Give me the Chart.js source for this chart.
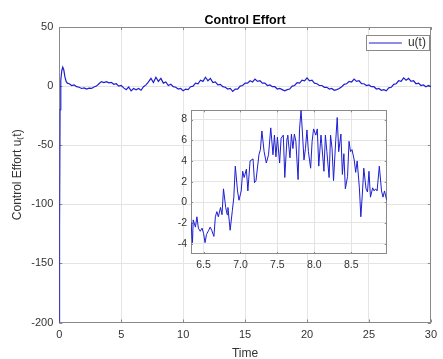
<!DOCTYPE html>
<html>
<head>
<meta charset="utf-8">
<script src="https://cdn.jsdelivr.net/npm/chart.js@4"></script>
<style>
  html, body { margin: 0; padding: 0; background: #fff; }
  #wrap { position: relative; width: 443px; height: 359px; }
  #mainChart { position: absolute; left: 0; top: 0; }
  #insetChart { position: absolute; left: 160px; top: 100px; }
</style>
</head>
<body>
<div id="wrap">
  <canvas id="mainChart" width="443" height="359"></canvas>
  <canvas id="insetChart" width="235" height="175"></canvas>
</div>
<script>
// --- DATA ---
const chartTitle = 'Control Effort';
const xLabel = 'Time';
const yLabel = 'Control Effort u\u208Dt)';
const seriesName = 'u(t)';

// main plot ticks
const mainXTicks = [0, 5, 10, 15, 20, 25, 30];
const mainYTicks = [-200, -150, -100, -50, 0, 50];

// start-up transient (t, u)
const startTime = [0, 0.02, 0.06, 0.12, 0.2, 0.28, 0.36, 0.45, 0.55, 0.65];
const startValues = [-200, -120, -20, 5, 13, 16, 14, 8, 4, 2.5];

// rest of the run, one reading every 0.2 s from t = 0.8
const runStart = 0.8;
const runStep = 0.2;
const runValues = [
  2.0, 0.5, 1.0, -0.5, -1.0, -2.0, -1.5, -2.5, -1.8, -2.0,
  -0.8, 0.0, 2.0, 3.8, 3.0, 3.8, 2.8, 3.2, 1.5, 2.0,
  0.0, 0.5, -1.5, -3.0, -0.8, -4.0, -2.0, -3.2, -2.0, -3.5,
  -0.5, 1.0, 3.5, 6.5, 3.0, 7.5, 4.0, 6.5, 2.5, 3.5,
  0.5, 1.5, -0.5, -1.0, -2.5, -2.0, -4.0, -2.5, -3.0, -0.5,
  0.0, 2.5, 2.0, 5.0, 4.0, 7.5, 4.5, 6.5, 3.0, 3.5,
  1.0, 1.5, -0.5, -1.0, -2.5, -2.0, -4.5, -2.5, -2.5, 0.0,
  0.5, 2.5, 2.5, 4.5, 3.5, 6.0, 4.0, 4.5, 2.5, 2.5,
  0.5, 1.0, -0.5, -0.5, -2.5, -2.0, -3.0, -4.0, -3.0, -2.5,
  0.0, 0.5, 3.0, 2.5, 5.0, 4.5, 7.0, 4.5, 5.0, 2.5,
  2.0, 0.5, 0.5, -1.0, -1.0, -2.5, -2.0, -3.5, -3.0, -2.0,
  -0.5, 1.5, 2.0, 4.0, 3.5, 6.0, 4.0, 4.5, 2.0, 2.0,
  0.5, 1.0, -0.5, -0.5, -2.5, -2.0, -3.5, -3.0, -4.0, -1.5,
  -1.0, 1.5, 2.0, 4.5, 4.0, 7.0, 5.0, 6.5, 4.0, 4.5,
  2.0, 2.5, 0.5, 1.0, -0.5, 0.5, -0.5
];

// zoomed window (inset)
const insetXTicks = [6.5, 7, 7.5, 8, 8.5];
const insetYTicks = [-4, -2, 0, 2, 4, 6, 8];
const insetTime = [
  6.33, 6.35, 6.36, 6.39, 6.41, 6.43, 6.455, 6.48, 6.5, 6.52,
  6.54, 6.57, 6.59, 6.61, 6.64, 6.66, 6.68, 6.7, 6.73, 6.75,
  6.77, 6.8, 6.82, 6.83, 6.86, 6.89, 6.91, 6.93, 6.96, 6.98,
  7.01, 7.03, 7.05, 7.08, 7.1, 7.13, 7.17, 7.19, 7.21, 7.25,
  7.27, 7.29, 7.32, 7.35, 7.38, 7.41, 7.44, 7.46, 7.48, 7.5,
  7.53, 7.55, 7.58, 7.6, 7.63, 7.64, 7.67, 7.69, 7.71, 7.73,
  7.75, 7.78, 7.8, 7.82, 7.84, 7.86, 7.88, 7.9, 7.92, 7.95,
  7.97, 7.99, 8.02, 8.04, 8.06, 8.09, 8.1, 8.13, 8.15, 8.17,
  8.2, 8.22, 8.24, 8.26, 8.29, 8.31, 8.33, 8.36, 8.38, 8.4,
  8.42, 8.45, 8.47, 8.49, 8.51, 8.54, 8.56, 8.58, 8.61, 8.63,
  8.65, 8.67, 8.7, 8.72, 8.74, 8.76, 8.79, 8.81, 8.83, 8.85,
  8.88, 8.91, 8.93, 8.95, 8.98
];
const insetValues = [
  -1.9, -3.9, -1.7, -2.4, -1.4, -2.5, -2.8, -2.5, -3.0, -3.9,
  -3.1, -2.7, -2.4, -2.7, -3.3, -1.4, -0.9, -1.4, -0.5, -1.2,
  1.3, -0.5, -1.2, -0.5, -2.7, -0.8, 0.5, 3.5, 1.1, 0.2,
  1.1, 3.0, 2.4, 3.2, 1.1, 4.0, 4.2, 1.9, 2.1, 4.6,
  5.1, 6.9, 4.9, 3.8, 4.6, 7.2, 4.6, 6.5, 4.4, 6.3,
  3.8, 6.2, 6.5, 2.4, 6.2, 6.5, 4.3, 6.6, 5.2, 6.6,
  5.9, 2.2, 7.1, 8.9, 6.6, 4.1, 5.2, 7.0, 4.9, 3.3,
  5.9, 7.1, 6.5, 7.1, 3.5, 6.5, 5.7, 3.0, 6.5, 4.9,
  2.4, 6.5, 5.2, 2.1, 6.0, 8.2, 4.9, 6.6, 2.7, 4.7,
  1.3, 2.5, 5.9, 4.9, 5.1, 4.1, 2.9, 4.0, 1.4, -1.4,
  0.8, 3.3, 1.3, 1.0, 3.0, 0.5, 1.4, 1.1, 1.3, 1.1,
  3.5, 1.1, 0.5, 1.1, 0.2
];
const insetXRange = [6.33, 8.98];
const insetYRange = [-5, 8.9];

// --- STYLE ---
const FONT = "'Liberation Sans', Arial, sans-serif";
const LINE_BLUE = 'rgb(30, 30, 210)';
const AXIS_GRAY = '#8a8a8a';
const GRID_GRAY = '#e4e4e4';
const TEXT_GRAY = '#333333';
const LEGEND_PAD = 10;

Chart.defaults.font.family = FONT;
Chart.defaults.color = TEXT_GRAY;

const mainPoints = startTime.map((t, i) => ({ x: t, y: startValues[i] }))
  .concat(runValues.map((v, i) => ({ x: +(runStart + i * runStep).toFixed(2), y: v })));
const insetPoints = insetTime.map((t, i) => ({ x: t, y: insetValues[i] }));

// MATLAB-like box with inward tick marks
const axesBox = {
  id: 'axesBox',
  beforeDraw(chart, args, opts) {
    if (!opts.fill) return;
    const a = chart.chartArea;
    const ctx = chart.ctx;
    ctx.save();
    ctx.fillStyle = opts.fill;
    ctx.fillRect(a.left, a.top, a.width, a.height);
    ctx.restore();
  },
  beforeDatasetsDraw(chart, args, opts) {
    const { ctx, chartArea: a, scales } = chart;
    const len = opts.tick || 3;
    ctx.save();
    ctx.strokeStyle = AXIS_GRAY;
    ctx.lineWidth = 1;
    ctx.beginPath();
    scales.x.ticks.forEach(t => {
      const px = Math.round(scales.x.getPixelForValue(t.value)) + 0.5;
      ctx.moveTo(px, a.bottom); ctx.lineTo(px, a.bottom - len);
      ctx.moveTo(px, a.top); ctx.lineTo(px, a.top + len);
    });
    scales.y.ticks.forEach(t => {
      const py = Math.round(scales.y.getPixelForValue(t.value)) + 0.5;
      ctx.moveTo(a.left, py); ctx.lineTo(a.left + len, py);
      ctx.moveTo(a.right, py); ctx.lineTo(a.right - len, py);
    });
    ctx.stroke();
    ctx.strokeRect(Math.round(a.left) + 0.5, Math.round(a.top) + 0.5,
      Math.round(a.width) - 1, Math.round(a.height) - 1);
    ctx.restore();
  }
};

// legend pinned to the top-right corner of the plot, framed in a white box
const legendFrame = {
  id: 'legendFrame',
  afterLayout(chart) {
    const lg = chart.legend;
    if (!lg || !lg.legendHitBoxes || !lg.legendHitBoxes.length) return;
    const a = chart.chartArea;
    const w = lg.legendHitBoxes[0].width;
    lg.left = a.right - w - LEGEND_PAD - 5;
    lg.right = a.right;
    lg.top = a.top;
    lg.bottom = a.bottom;
  },
  afterDatasetsDraw(chart) {
    const lg = chart.legend;
    if (!lg || !lg.legendHitBoxes || !lg.legendHitBoxes.length) return;
    const hb = lg.legendHitBoxes[0];
    const ctx = chart.ctx;
    const x0 = Math.round(hb.left - 3) + 0.5;
    const y0 = Math.round(hb.top - 2) + 0.5;
    const w = Math.round(hb.width + 6);
    const h = Math.round(hb.height + 3);
    ctx.save();
    ctx.fillStyle = '#ffffff';
    ctx.fillRect(x0, y0, w, h);
    ctx.strokeStyle = AXIS_GRAY;
    ctx.lineWidth = 1;
    ctx.strokeRect(x0, y0, w, h);
    ctx.restore();
    lg.draw();
  }
};

new Chart(document.getElementById('mainChart'), {
  type: 'line',
  data: {
    datasets: [{
      label: seriesName,
      data: mainPoints,
      borderColor: LINE_BLUE,
      borderWidth: 1.2,
      pointRadius: 0,
      tension: 0
    }]
  },
  options: {
    responsive: false,
    animation: false,
    devicePixelRatio: 1,
    layout: { padding: { left: 0, right: 6.3, top: 0, bottom: 0 } },
    plugins: {
      title: {
        display: true,
        text: chartTitle,
        fullSize: false,
        color: '#000',
        font: { size: 12.5, weight: 'bold', family: FONT },
        padding: { top: 13, bottom: -1 }
      },
      legend: {
        position: 'chartArea',
        align: 'start',
        labels: {
          usePointStyle: true,
          pointStyle: 'line',
          pointStyleWidth: 33,
          padding: LEGEND_PAD,
          color: TEXT_GRAY,
          font: { size: 12, family: FONT }
        }
      },
      tooltip: { enabled: false },
      axesBox: { tick: 3 }
    },
    scales: {
      x: {
        type: 'linear',
        min: mainXTicks[0],
        max: mainXTicks[mainXTicks.length - 1],
        afterBuildTicks: s => { s.ticks = mainXTicks.map(v => ({ value: v })); },
        afterFit: s => { s.height = 36.5; },
        grid: { color: GRID_GRAY, drawTicks: false },
        border: { display: false },
        ticks: { padding: 6, color: TEXT_GRAY, font: { size: 11 } },
        title: {
          display: true, text: xLabel, color: TEXT_GRAY,
          font: { size: 12 }, padding: { top: 0, bottom: -2 }
        }
      },
      y: {
        type: 'linear',
        min: mainYTicks[0],
        max: mainYTicks[mainYTicks.length - 1],
        afterBuildTicks: s => { s.ticks = mainYTicks.map(v => ({ value: v })); },
        afterFit: s => { s.width = 59.3; },
        grid: { color: GRID_GRAY, drawTicks: false },
        border: { display: false },
        ticks: { padding: 6, color: TEXT_GRAY, font: { size: 11 } },
        title: {
          display: true, text: yLabel, color: TEXT_GRAY,
          font: { size: 12 }, padding: { top: 10, bottom: 0 }
        }
      }
    }
  },
  plugins: [axesBox, legendFrame]
});

new Chart(document.getElementById('insetChart'), {
  type: 'line',
  data: {
    datasets: [{
      label: seriesName,
      data: insetPoints,
      borderColor: LINE_BLUE,
      borderWidth: 1,
      pointRadius: 0,
      tension: 0
    }]
  },
  options: {
    responsive: false,
    animation: false,
    devicePixelRatio: 1,
    layout: { padding: { left: 0, right: 8.3, top: 7, bottom: 0 } },
    plugins: {
      legend: { display: false },
      tooltip: { enabled: false },
      axesBox: { tick: 2, fill: '#ffffff' }
    },
    scales: {
      x: {
        type: 'linear',
        min: insetXRange[0],
        max: insetXRange[1],
        afterBuildTicks: s => { s.ticks = insetXTicks.map(v => ({ value: v })); },
        afterFit: s => { s.height = 21; },
        grid: { color: GRID_GRAY, drawTicks: false },
        border: { display: false },
        ticks: { padding: 5, color: TEXT_GRAY, font: { size: 10.5 } }
      },
      y: {
        type: 'linear',
        min: insetYRange[0],
        max: insetYRange[1],
        afterBuildTicks: s => { s.ticks = insetYTicks.map(v => ({ value: v })); },
        afterFit: s => { s.width = 31; },
        grid: { color: GRID_GRAY, drawTicks: false },
        border: { display: false },
        ticks: { padding: 4, color: TEXT_GRAY, font: { size: 10.5 } }
      }
    }
  },
  plugins: [axesBox]
});
</script>
</body>
</html>
